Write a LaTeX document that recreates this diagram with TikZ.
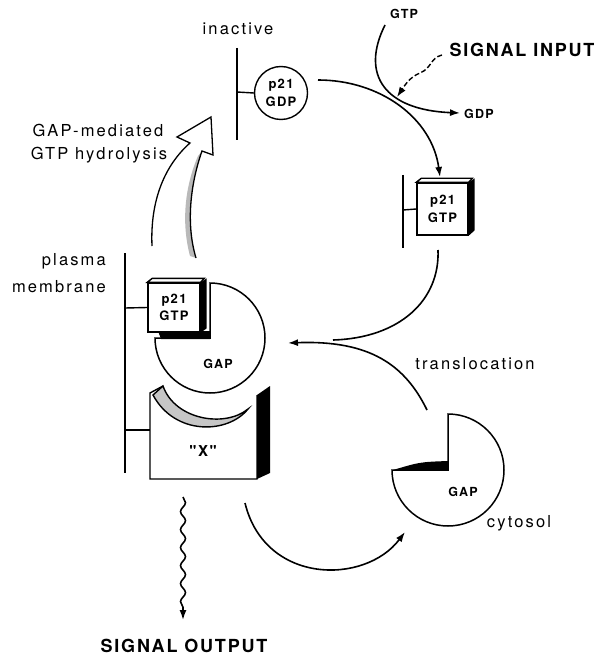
\documentclass[tikz,border=0pt]{standalone}
\usepackage{fontspec}
\setmainfont{TeX Gyre Heros}
\newfontfamily\labfont[LetterSpace=13]{TeX Gyre Heros}
\newfontfamily\bigfont[LetterSpace=10]{TeX Gyre Heros}
\usetikzlibrary{arrows.meta,decorations.pathmorphing}
\begin{document}
\begin{tikzpicture}[x=1pt,y=-1pt,
  lab/.style={font=\labfont\fontsize{16.5}{19}\selectfont, inner sep=0pt},
  biglab/.style={font=\bigfont\bfseries\fontsize{18}{20}\selectfont, inner sep=0pt},
  small/.style={font=\bigfont\bfseries\fontsize{12.5}{14}\selectfont, inner sep=0pt},
  inbox/.style={font=\bigfont\bfseries\fontsize{13}{17.5}\selectfont, align=center},
  mem/.style={line width=2pt},
  thin/.style={line width=1.4pt},
  conn/.style={line width=1.6pt},
  tip/.style={-{Latex[length=10pt,width=7pt]}},
  pac/.style={line width=1.5pt, fill=white}]
\useasboundingbox (0,0) rectangle (600,660);

% ---------- labels ----------
\node[lab] (inact) at (238,29) {inactive};
\node[lab] (gapmed) at (98,130) {GAP-mediated};
\node[lab] (gtphyd) at (99,155) {GTP hydrolysis};
\node[lab,anchor=east] (plasma) at (106,261) {plasma};
\node[lab,anchor=east] (membr) at (106,287) {membrane};
\node[lab] (transl) at (475,364) {translocation};
\node[lab] (cyto) at (519,523) {cytosol};
\node[biglab] (sigin) at (522,50) {SIGNAL INPUT};
\node[biglab] (sigout) at (184,646) {SIGNAL OUTPUT};
\node[small] (gtptop) at (404,14) {GTP};
\node[small] (gdpr) at (479,114) {GDP};

% ---------- inactive p21-GDP ----------
\coordinate (m1a) at (237,48);
\coordinate (m1b) at (237,140);
\coordinate (m1t) at (237,92);
\draw[mem] (m1a) -- (m1b);
\node[circle,draw,thin,minimum size=53pt,inner sep=0pt,inbox] (gdp) at (281,93) {p21\\GDP};
\draw[thin] (m1t) -- (gdp.west);

% ---------- active p21-GTP (right) ----------
\coordinate (m2a) at (403,175);
\coordinate (m2b) at (403,248);
\coordinate (m2t) at (403,210);
\draw[mem] (m2a) -- (m2b);
\node[draw,thin,fill=white,minimum width=51pt,minimum height=52pt,inner sep=0pt,inbox] (gtpR) at (442.5,209) {p21\\GTP};
\draw[thin] (m2t) -- (gtpR.west);
\draw[thin,fill=white] (gtpR.north west) -- ++(5,-4) -- ++(51,0) -- (gtpR.north east) -- cycle;
\fill (gtpR.north east) -- ++(6,-4) -- ++(0,52) -- (gtpR.south east) -- cycle;

% ---------- cycle arrows ----------
\coordinate (c1) at (318,80);
\coordinate (c2) at (440,177);
\draw[conn,tip] (c1) .. controls (380,80) and (432,118) .. (c2);
\coordinate (g1) at (385,25);
\coordinate (g2) at (460,113);
\draw[conn,tip] (g1) .. controls (360,75) and (385,110) .. (g2);
\coordinate (s1) at (442,55);
\coordinate (s2) at (397,97);
\draw[line width=1.4pt,dash pattern=on 5pt off 2.5pt,tip] (s1) .. controls (430,58) and (432,68) .. (420,73) .. controls (410,77) and (405,85) .. (s2);
\coordinate (d1) at (438,250);
\coordinate (d2) at (333,340);
\draw[conn] (d1) .. controls (440,300) and (400,338) .. (d2);
\coordinate (t1) at (427,410);
\coordinate (t2) at (288,343);
\draw[conn,tip] (t1) .. controls (405,365) and (370,340) .. (t2);
\coordinate (l1) at (245,503);
\coordinate (l2) at (405,532);
\draw[conn,tip] (l1) .. controls (265,585) and (365,585) .. (l2);

% ---------- GAP-mediated hydrolysis hollow arrow ----------
\fill[gray!55] (202,151) .. controls (190,185) and (186,225) .. (196,258) -- (190,256) .. controls (181,222) and (185,186) .. (198,156) -- cycle;
\draw[line width=1.3pt] (152,246) .. controls (150,200) and (165,165) .. (190,143) -- (177,137) -- (211,117) -- (213,155) -- (202,151) .. controls (190,185) and (186,225) .. (196,258);

% ---------- plasma membrane complex ----------
\coordinate (m3a) at (125,253);
\coordinate (m3b) at (125,473);
\coordinate (m3t) at (125,308);
\coordinate (m3x) at (125,430);
\draw[mem] (m3a) -- (m3b);

% GAP bound
\coordinate (gapc) at (210,338);
\draw[pac] (gapc) ++(-90:55) arc[start angle=-90,end angle=180,radius=55] -- (gapc) -- cycle;
\node[small] (gapl) at (218,364) {GAP};
\fill (158,331) -- (210,331) -- (210,339) -- (161,339) -- cycle;

% p21-GTP bound
\node[draw,thin,fill=white,minimum width=52pt,minimum height=49pt,inner sep=0pt,inbox] (gtpL) at (174,307.5) {p21\\GTP};
\draw[thin] (m3t) -- (gtpL.west);
\draw[thin,fill=white] (gtpL.north west) -- ++(5,-4) -- ++(52,0) -- (gtpL.north east) -- cycle;
\fill (gtpL.north east) -- ++(6,-4) -- ++(0,50) -- (gtpL.south east) -- cycle;

% "X"
\coordinate (xa) at (150,479);
\coordinate (xb) at (257,479);
\draw[thin] (257,395) -- (xb) -- (xa) -- (150,393) -- (163,386);
\fill (257,395) -- (270,386) -- (270,473) -- (257,479) -- cycle;
\fill[gray!45] (163,386) .. controls (175,420) and (225,428) .. (248,409) .. controls (228,434) and (175,436) .. (153,395) -- cycle;
\draw[thin] (163,386) .. controls (175,420) and (225,428) .. (248,409) .. controls (228,434) and (175,436) .. (153,395) -- cycle;
\node[font=\bigfont\bfseries\fontsize{15}{17}\selectfont] (xl) at (203,451) {"X"};
\draw[thin] (m3x) -- (150,430);

% signal output
\coordinate (w1) at (183,497);
\coordinate (w2) at (183,620);
\draw[conn,tip,decorate,decoration={snake,amplitude=2.5pt,segment length=18pt,post length=12pt}] (w1) -- (w2);

% ---------- cytosolic GAP ----------
\coordinate (gc) at (448,470);
\draw[pac] (gc) ++(-90:56) arc[start angle=-90,end angle=180,radius=56] -- (gc) -- cycle;
\fill (393,470) .. controls (420,462) .. (448,461) -- (gc) -- cycle;
\node[small] (gapc2) at (463,492) {GAP};
\end{tikzpicture}
\end{document}
